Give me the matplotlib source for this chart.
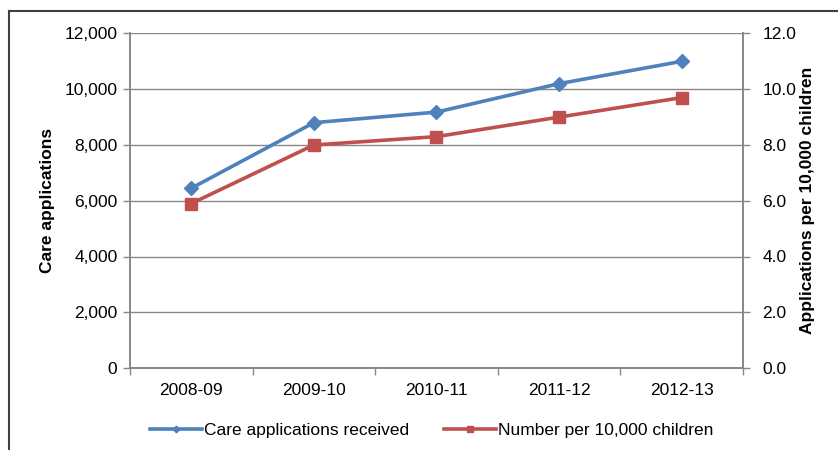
import matplotlib.pyplot as plt
from matplotlib.lines import Line2D
from matplotlib.ticker import FuncFormatter, FixedLocator

plt.rcParams['font.family'] = ['Liberation Sans', 'DejaVu Sans']

# Data
years = ['2008-09', '2009-10', '2010-11', '2011-12', '2012-13']
care_applications = [6450, 8800, 9180, 10200, 11000]
per_10000_children = [5.9, 8.0, 8.3, 9.0, 9.7]

BLUE = '#4F81BD'
RED = '#C0504D'
GRID = '#878787'

fig = plt.figure(figsize=(8.38, 4.5), dpi=100)
ax = fig.add_axes([0.1551, 0.1822, 0.7315, 0.7434])
ax2 = ax.twinx()

x = list(range(len(years)))
line1, = ax.plot(x, care_applications, color=BLUE, lw=2.6, marker='D',
                 markersize=7.5, label='Care applications received', zorder=3)
line2, = ax2.plot(x, per_10000_children, color=RED, lw=2.6, marker='s',
                  markersize=9, label='Number per 10,000 children', zorder=3)

ax.set_xlim(-0.5, len(years) - 0.5)
ax.set_ylim(0, 12000)
ax2.set_ylim(0, 12)
ax.set_yticks(range(0, 12001, 2000))
ax2.set_yticks(range(0, 13, 2))
ax.yaxis.set_major_formatter(FuncFormatter(lambda v, p: format(int(v), ',')))
ax2.yaxis.set_major_formatter(FuncFormatter(lambda v, p: format(v, '.1f')))

ax.set_xticks(x)
ax.set_xticklabels(years)
ax.xaxis.set_minor_locator(FixedLocator([i - 0.5 for i in range(len(years) + 1)]))
ax.tick_params(axis='x', which='major', length=0, pad=11, labelsize=12.5)
ax.tick_params(axis='x', which='minor', length=5, color=GRID, width=1)
ax.tick_params(axis='y', length=5, color=GRID, width=1, labelsize=12.5, pad=4)
ax2.tick_params(axis='y', length=5, color=GRID, width=1, labelsize=12.5, pad=9)

ax.grid(axis='y', color=GRID, lw=1)
ax.set_axisbelow(True)
for a in (ax, ax2):
    a.spines['top'].set_visible(False)
    for s in ('left', 'right', 'bottom'):
        a.spines[s].set_color(GRID)
        a.spines[s].set_linewidth(1.2)

ax.set_ylabel('Care applications', fontsize=12.5, fontweight='bold', labelpad=7)
ax2.set_ylabel('Applications per 10,000 children', fontsize=12.5,
               fontweight='bold', labelpad=3)

fig.legend(handles=[line1, line2], loc='center', bbox_to_anchor=(0.515, 0.044),
           ncol=2, frameon=False, fontsize=12.5, handlelength=3.0,
           handletextpad=0.1, columnspacing=2.0, markerscale=0.45)

# Outer border (only top and left visible in the original)
fig.add_artist(Line2D([0.011, 1.0], [0.976, 0.976], color='#404040', lw=1.5,
                      transform=fig.transFigure))
fig.add_artist(Line2D([0.011, 0.011], [0.0, 0.976], color='#404040', lw=1.5,
                      transform=fig.transFigure))

fig.savefig('out.png', dpi=100)
